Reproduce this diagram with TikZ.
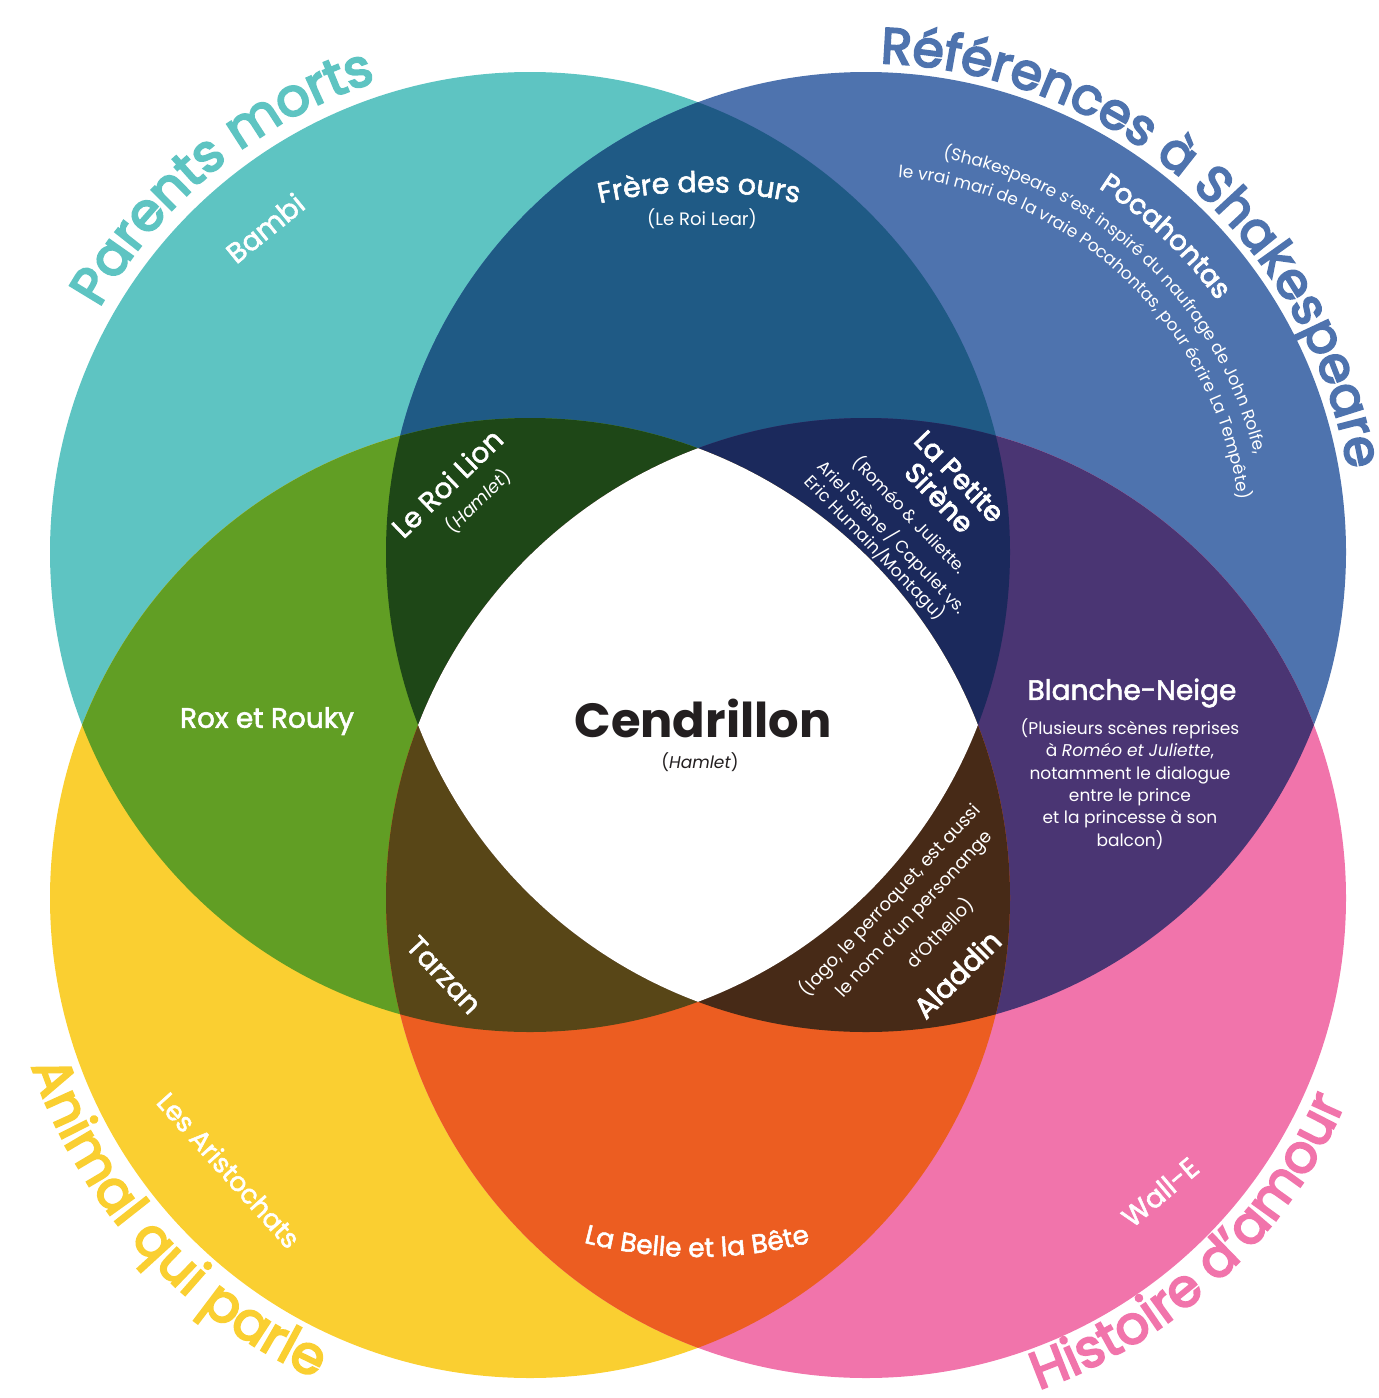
\documentclass[tikz,border=0pt]{standalone}
\usepackage{fontspec}
\setmainfont{Poppins}
\newfontfamily\ptitle{Poppins}[FakeBold=4]
\newfontfamily\psemi{Poppins}[FakeBold=3]
\newfontfamily\pmed{Poppins}[FakeBold=2]
\usetikzlibrary{calc,decorations.text}
\definecolor{cT}{HTML}{5EC4C2}
\definecolor{cB}{HTML}{4E73AE}
\definecolor{cY}{HTML}{FACF31}
\definecolor{cP}{HTML}{F174AB}
\definecolor{cTB}{HTML}{1F5A85}
\definecolor{cTY}{HTML}{619E24}
\definecolor{cBP}{HTML}{4A3573}
\definecolor{cYP}{HTML}{EC5D21}
\definecolor{cTBY}{HTML}{1E4717}
\definecolor{cTBP}{HTML}{1B295C}
\definecolor{cTYP}{HTML}{584617}
\definecolor{cBYP}{HTML}{472A17}
\definecolor{cInk}{HTML}{231F20}
\tikzset{
  lab/.style={inner sep=0pt, text=white},
  big/.style={font=\pmed\fontsize{28}{34}\selectfont},
  bolder/.style={font=\psemi\fontsize{27.5}{32}\selectfont},
  small/.style={font=\fontsize{17}{22.4}\selectfont},
}
\begin{document}
\begin{tikzpicture}[x=1pt,y=1pt]
\useasboundingbox (0,0) rectangle (1379,-1398);
\coordinate (T) at (530,-552);
\coordinate (B) at (866,-552);
\coordinate (Y) at (530,-898);
\coordinate (P) at (866,-898);
\coordinate (fcen) at (699,-632);
\coordinate (bcen) at (697,-807);
% base circles
\fill[cT] (T) circle[radius=480];
\fill[cB] (B) circle[radius=480];
\fill[cY] (Y) circle[radius=480];
\fill[cP] (P) circle[radius=480];
% pairs
\begin{scope}\clip (T) circle[radius=480]; \fill[cTB] (B) circle[radius=480];\end{scope}
\begin{scope}\clip (T) circle[radius=480]; \fill[cTY] (Y) circle[radius=480];\end{scope}
\begin{scope}\clip (B) circle[radius=480]; \fill[cBP] (P) circle[radius=480];\end{scope}
\begin{scope}\clip (Y) circle[radius=480]; \fill[cYP] (P) circle[radius=480];\end{scope}
% triples
\begin{scope}\clip (T) circle[radius=480]; \clip (B) circle[radius=480]; \fill[cTBY] (Y) circle[radius=480];\end{scope}
\begin{scope}\clip (T) circle[radius=480]; \clip (B) circle[radius=480]; \fill[cTBP] (P) circle[radius=480];\end{scope}
\begin{scope}\clip (T) circle[radius=480]; \clip (Y) circle[radius=480]; \fill[cTYP] (P) circle[radius=480];\end{scope}
\begin{scope}\clip (B) circle[radius=480]; \clip (Y) circle[radius=480]; \fill[cBYP] (P) circle[radius=480];\end{scope}
% all four
\begin{scope}\clip (T) circle[radius=480]; \clip (B) circle[radius=480]; \clip (Y) circle[radius=480]; \fill[white] (P) circle[radius=480];\end{scope}

% curved titles
\path[decorate, decoration={text along path, text align=center, text color=cT,
  text={|\ptitle\fontsize{52.5}{60}\selectfont|Parents morts}}]
  ($(T)+(164.3:495)$) arc[start angle=164.3, end angle=94.3, radius=495];
\path[decorate, decoration={text along path, text align=center, text color=cB,
  text={|\ptitle\fontsize{50.5}{60}\selectfont|Références à Shakespeare}}]
  ($(B)+(100:489)$) arc[start angle=100, end angle=-2, radius=489];
\path[decorate, decoration={text along path, text align=center, text color=cY,
  text={|\ptitle\fontsize{53}{60}\selectfont|Animal qui parle}}]
  ($(Y)+(180:526)$) arc[start angle=180, end angle=264.6, radius=526];
\path[decorate, decoration={text along path, text align=center, text color=cP,
  text={|\ptitle\fontsize{52.5}{60}\selectfont|Histoire d’amour}}]
  ($(P)+(269.5:521)$) arc[start angle=269.5, end angle=356.7, radius=521];

% curved labels
\path[decorate, decoration={text along path, text align=center, text color=white,
  text={|\pmed\fontsize{28.5}{34}\selectfont|Frère des ours}}]
  ($(fcen)+(110:440)$) arc[start angle=110, end angle=70, radius=440];
\path[decorate, decoration={text along path, text align=center, text color=white,
  text={|\pmed\fontsize{26.5}{32}\selectfont|La Belle et la Bête}}]
  ($(bcen)+(245:450)$) arc[start angle=245, end angle=295, radius=450];
\path[decorate, decoration={text along path, text align=center, text color=white,
  text={|\psemi\fontsize{27.5}{32}\selectfont|Pocahontas}}]
  ($(B)+(85:432)$) arc[start angle=85, end angle=8, radius=432];
\path[decorate, decoration={text along path, text align=center, text color=white,
  text={|\fontsize{17}{20}\selectfont|(Shakespeare s’est inspiré du naufrage de John Rolfe,}}]
  ($(B)+(100:401)$) arc[start angle=100, end angle=-7, radius=401];
\path[decorate, decoration={text along path, text align=center, text color=white,
  text={|\fontsize{17}{20}\selectfont|le vrai mari de la vraie Pocahontas, pour écrire La Tempête)}}]
  ($(B)+(105:376)$) arc[start angle=105, end angle=-12, radius=376];

% straight labels
\node[lab, big, rotate=39] (bambi) at (265,-228) {Bambi};
\node[lab, font=\fontsize{18}{22}\selectfont] (lear) at (702,-219) {(Le Roi Lear)};
\node[lab, big, rotate=44] (lion) at (447,-483) {Le Roi Lion};
\node[lab, font=\fontsize{18}{22}\selectfont, rotate=44] (lionsub) at (478,-501) {(\textit{Hamlet})};
\node[lab, bolder, rotate=-46] (sir1) at (960,-476) {La Petite};
\node[lab, bolder, rotate=-46] (sir2) at (940,-497) {Sirène};
\node[lab, small, rotate=-46] (sir3) at (910,-515) {(Roméo \& Juliette.};
\node[lab, small, rotate=-46] (sir4) at (892,-537) {Ariel Sirène / Capulet vs.};
\node[lab, small, rotate=-46] (sir5) at (875,-548) {Eric Humain/Montagu)};
\node[lab, big] (rox) at (267,-721) {Rox et Rouky};
\node[inner sep=0pt, text=cInk, font=\fontsize{48}{56}\selectfont\bfseries] (cend) at (703,-718) {Cendrillon};
\node[inner sep=0pt, text=cInk, font=\fontsize{17}{20}\selectfont] (cendsub) at (700,-762) {(\textit{Hamlet})};
\node[lab, big] (bn) at (1132,-693) {Blanche-Neige};
\node[lab, small, align=center] (bnsub) at (1130,-784) {(Plusieurs scènes reprises\\à \textit{Roméo et Juliette},\\notamment le dialogue\\entre le prince\\et la princesse à son\\balcon)};
\node[lab, big, rotate=-47] (tarzan) at (444,-975) {Tarzan};
\node[lab, font=\fontsize{18}{22}\selectfont, rotate=47] (ala1) at (890,-900) {(Iago, le perroquet, est aussi};
\node[lab, font=\fontsize{18}{22}\selectfont, rotate=47] (ala2) at (915,-915) {le nom d’un personange};
\node[lab, font=\fontsize{18}{22}\selectfont, rotate=47] (ala3) at (940,-933) {d’Othello)};
\node[lab, font=\psemi\fontsize{28.5}{32}\selectfont, rotate=45] (aladdin) at (957,-974) {Aladdin};
\node[lab, font=\pmed\fontsize{26.5}{32}\selectfont, rotate=-48] (arist) at (229,-1170) {Les Aristochats};
\node[lab, big, rotate=40] (walle) at (1160,-1192) {Wall-E};
\end{tikzpicture}
\end{document}
